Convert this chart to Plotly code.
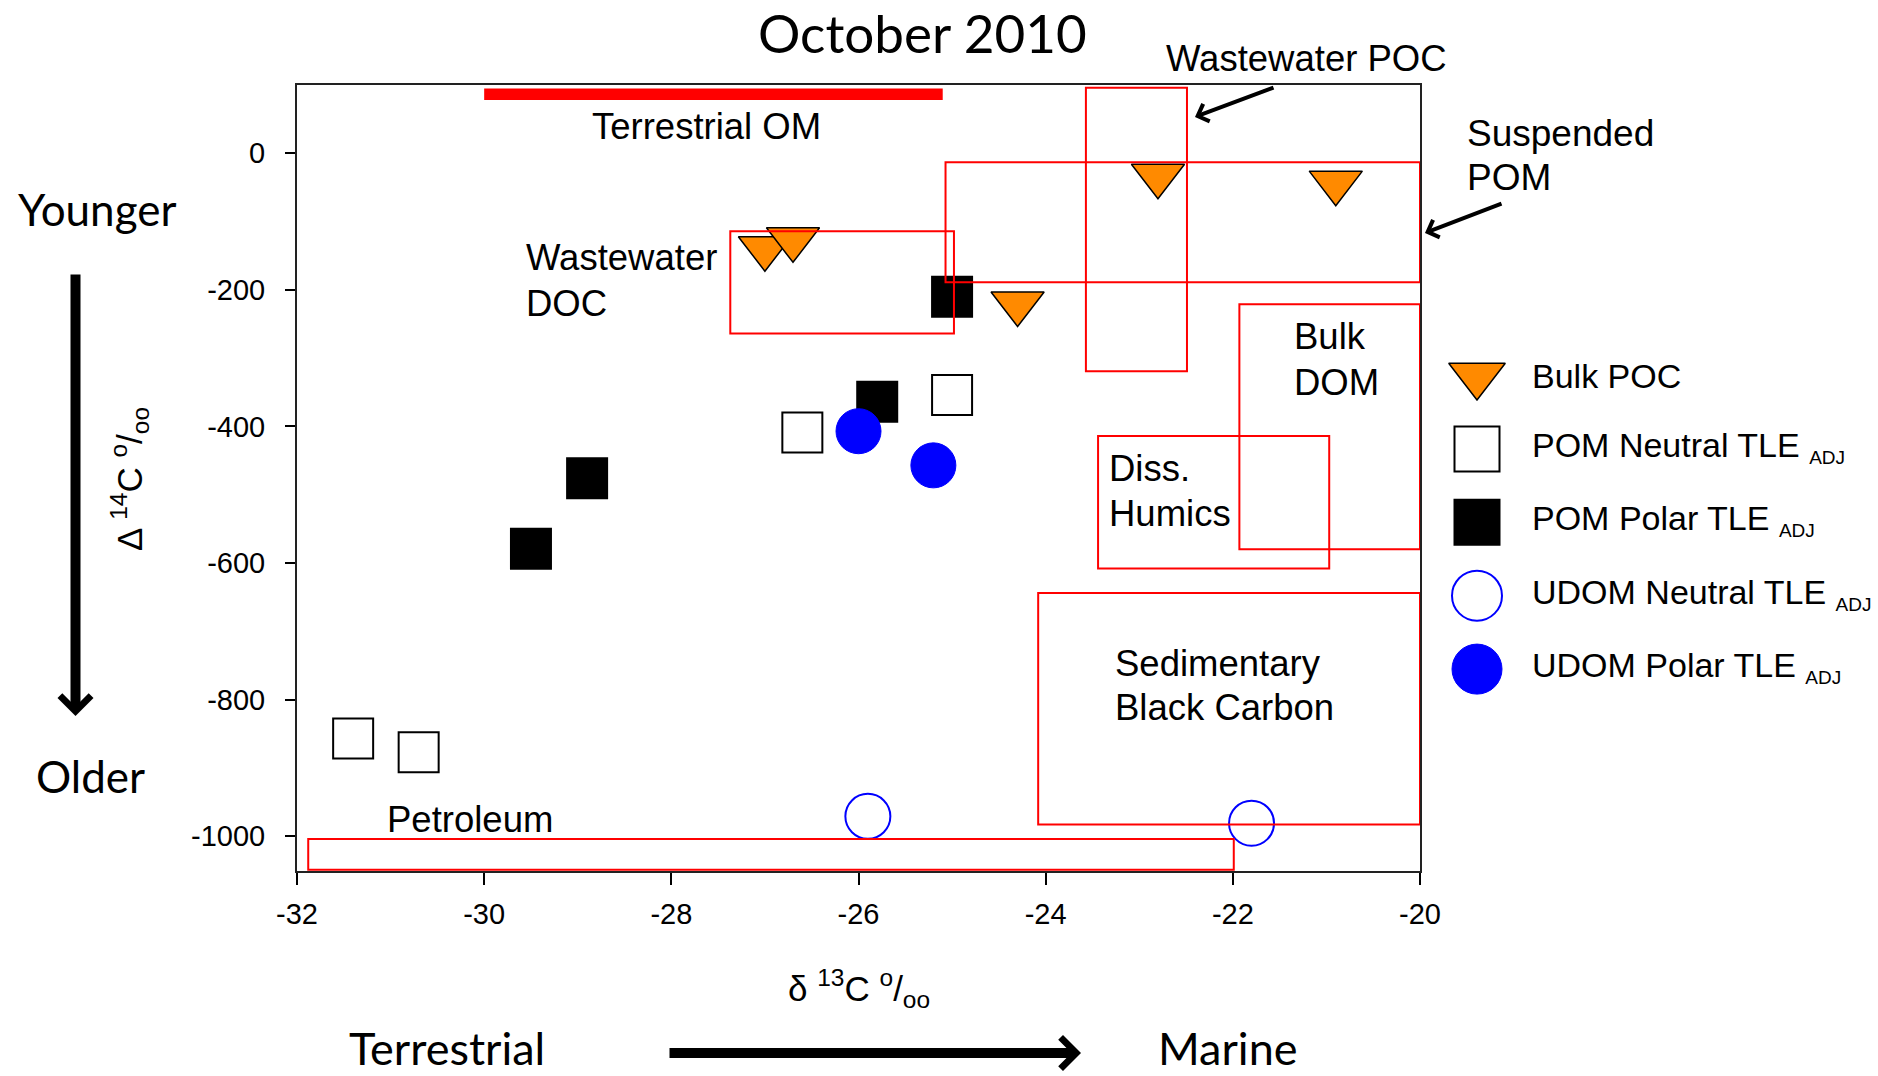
import plotly.graph_objects as go

# ---------------- data ----------------
bulk_poc_x = [-27.0, -26.7, -22.8, -20.9, -24.3]
bulk_poc_y = [-139, -126, -33, -43, -220]

pom_neutral_x = [-31.4, -30.7, -26.6, -25.0]
pom_neutral_y = [-857, -877, -409, -354]

pom_polar_x = [-25.0, -25.8, -28.9, -29.5]
pom_polar_y = [-210, -364, -476, -579]

udom_neutral_x = [-25.9, -21.8]
udom_neutral_y = [-971, -981]

udom_polar_x = [-26.0, -25.2]
udom_polar_y = [-407, -457]

# source regions (d13C range, D14C range)
region_names = ["Wastewater DOC", "Suspended POM", "Wastewater POC", "Bulk DOM",
                "Diss. Humics", "Sedimentary Black Carbon", "Petroleum"]
region_x0 = [-27.37, -25.07, -23.57, -21.93, -23.44, -24.08, -31.88]
region_x1 = [-24.98, -20.0, -22.49, -20.0, -20.97, -20.0, -21.99]
region_y0 = [-264, -189, -319, -580, -608, -983, -1049]
region_y1 = [-114, -13, 96, -221, -414, -644, -1004]

terrestrial_x = [-30.0, -25.1]
terrestrial_y = [78, 95]

x_ticks = [-32, -30, -28, -26, -24, -22, -20]
x_tick_labels = ["-32", "-30", "-28", "-26", "-24", "-22", "-20"]
y_ticks = [0, -200, -400, -600, -800, -1000]
y_tick_labels = ["0", "-200", "-400", "-600", "-800", "-1000"]

legend_labels = ["Bulk POC",
                 "POM Neutral TLE <sub><span style='font-size:19px'>ADJ</span></sub>",
                 "POM Polar TLE <sub><span style='font-size:19px'>ADJ</span></sub>",
                 "UDOM Neutral TLE <sub><span style='font-size:19px'>ADJ</span></sub>",
                 "UDOM Polar TLE <sub><span style='font-size:19px'>ADJ</span></sub>"]

# ---------------- geometry helpers ----------------
W, H = 1878, 1076
ML, MT, MB, MR = 297, 85, 205, 0
PW = W - ML - MR
PH = H - MT - MB
PLOT_W = 1123

# legend key rows (pixel centres from the top of the canvas)
LEG_TOP, LEG_STEP = 375.5, 73.4


def pxx(x):
    return (x - ML) / PW


def pyy(y):
    return 1 - (y - MT) / PH


ARIAL = "Liberation Sans, Arial, sans-serif"
CALIBRI = "Lato, Open Sans, sans-serif"
ORANGE = "#FF8A00"
BLUE = "#0000FF"

fig = go.Figure()

styles = [
    dict(symbol="triangle-down", color=ORANGE, line=dict(color="black", width=1.5)),
    dict(symbol="square", color="white", line=dict(color="black", width=2)),
    dict(symbol="square", color="black", line=dict(color="black", width=2)),
    dict(symbol="circle", color="rgba(0,0,0,0)", line=dict(color=BLUE, width=2)),
    dict(symbol="circle", color=BLUE, line=dict(color=BLUE, width=1)),
]
plot_sizes = [46, 40, 40, 45, 45]
legend_sizes = [49, 45, 45, 50, 50]
series = [(bulk_poc_x, bulk_poc_y), (pom_neutral_x, pom_neutral_y),
          (pom_polar_x, pom_polar_y), (udom_neutral_x, udom_neutral_y),
          (udom_polar_x, udom_polar_y)]
names = ["Bulk POC", "POM Neutral TLE ADJ", "POM Polar TLE ADJ",
         "UDOM Neutral TLE ADJ", "UDOM Polar TLE ADJ"]

for (sx, sy), st, sz, nm in zip(series, styles, plot_sizes, names):
    fig.add_trace(go.Scatter(x=sx, y=sy, mode="markers", name=nm,
                             marker=dict(size=sz, **st), showlegend=False,
                             cliponaxis=False))

# manual legend keys on a hidden axis pair
for i, (st, sz, nm) in enumerate(zip(styles, legend_sizes, names)):
    fig.add_trace(go.Scatter(x=[0.5], y=[i], mode="markers", name=nm,
                             marker=dict(size=sz, **st), showlegend=False,
                             xaxis="x2", yaxis="y2", cliponaxis=False))

shapes = []
# terrestrial OM bar
shapes.append(dict(type="rect", xref="x", yref="y", x0=terrestrial_x[0], x1=terrestrial_x[1],
                   y0=terrestrial_y[0], y1=terrestrial_y[1], fillcolor="#FF0000",
                   line=dict(width=0), layer="above"))
for x0, x1, y0, y1 in zip(region_x0, region_x1, region_y0, region_y1):
    shapes.append(dict(type="rect", xref="x", yref="y", x0=x0, x1=x1, y0=y0, y1=y1,
                       line=dict(color="#FF0000", width=2), fillcolor="rgba(0,0,0,0)",
                       layer="above"))

annotations = []


def txt(text, x, y, size, family, xanchor="center", yanchor="middle", xref="paper",
        yref="paper", textangle=0):
    annotations.append(dict(text=text, x=x, y=y, xref=xref, yref=yref, showarrow=False,
                            xanchor=xanchor, yanchor=yanchor, textangle=textangle,
                            font=dict(size=size, family=family, color="black")))


def arrow(tipx, tipy, tailx, taily, width, size):
    annotations.append(dict(text="", x=pxx(tipx), y=pyy(tipy), xref="paper", yref="paper",
                            ax=tailx - tipx, ay=taily - tipy, showarrow=True,
                            arrowhead=4, arrowsize=size, arrowwidth=width,
                            arrowcolor="black", standoff=0))


# title and outside labels (Calibri-like)
txt("October 2010", pxx(922), pyy(33), 53, CALIBRI)
txt("Younger", pxx(97), pyy(209), 44, CALIBRI)
txt("Older", pxx(91), pyy(776), 44, CALIBRI)
txt("Terrestrial", pxx(447), pyy(1048), 45, CALIBRI)
txt("Marine", pxx(1228), pyy(1048), 45, CALIBRI)

# outside Arial labels
txt("Wastewater POC", pxx(1164), pyy(58), 36.5, ARIAL, xanchor="left")
txt("Suspended", pxx(1465), pyy(133), 37, ARIAL, xanchor="left")
txt("POM", pxx(1465), pyy(177), 37, ARIAL, xanchor="left")

# axis titles
txt("δ <sup>13</sup>C <sup>o</sup>/<sub>oo</sub>", pxx(859), pyy(988), 35, ARIAL)
txt("Δ <sup>14</sup>C <sup>o</sup>/<sub>oo</sub>", pxx(129), pyy(479), 35, ARIAL, textangle=-90)

# in-plot region labels (data coordinates)
txt("Terrestrial OM", -27.62, 39.6, 36.5, ARIAL, xref="x", yref="y")
txt("Wastewater", -29.57, -153, 36.5, ARIAL, xanchor="left", xref="x", yref="y")
txt("DOC", -29.57, -220, 36.5, ARIAL, xanchor="left", xref="x", yref="y")
txt("Bulk", -21.37, -269, 36.5, ARIAL, xanchor="left", xref="x", yref="y")
txt("DOM", -21.37, -335, 36.5, ARIAL, xanchor="left", xref="x", yref="y")
txt("Diss.", -23.34, -462, 36.5, ARIAL, xanchor="left", xref="x", yref="y")
txt("Humics", -23.34, -528, 36.5, ARIAL, xanchor="left", xref="x", yref="y")
txt("Sedimentary", -23.28, -747, 36.5, ARIAL, xanchor="left", xref="x", yref="y")
txt("Black Carbon", -23.28, -811, 36.5, ARIAL, xanchor="left", xref="x", yref="y")
txt("Petroleum", -31.06, -975, 36.5, ARIAL, xanchor="left", xref="x", yref="y")

# legend labels
for i, lab in enumerate(legend_labels):
    txt(lab, pxx(1530), pyy(LEG_TOP + i * LEG_STEP + (0 if i == 0 else -2)), 34, ARIAL,
        xanchor="left")

# arrows
arrow(75.5, 716, 75.5, 273, 10, 0.6)
arrow(1081, 1053, 668, 1053, 10, 0.6)
arrow(1195, 117, 1275, 87, 4, 0.9)
arrow(1425, 233, 1503, 203, 4, 0.9)

fig.update_layout(
    width=W, height=H, autosize=False,
    margin=dict(l=ML, r=MR, t=MT, b=MB, pad=0, autoexpand=False),
    paper_bgcolor="white", plot_bgcolor="white",
    showlegend=False,
    shapes=shapes, annotations=annotations,
    xaxis=dict(range=[-32, -20], domain=[0, PLOT_W / PW], tickvals=x_ticks,
               ticktext=x_tick_labels, ticks="outside", ticklen=12, tickwidth=2,
               tickcolor="black", showline=True, linewidth=2, linecolor="#222",
               mirror=True, showgrid=False, zeroline=False, ticklabelstandoff=4,
               automargin=False,
               tickfont=dict(size=29, family=ARIAL, color="black")),
    yaxis=dict(range=[-1051, 100], domain=[0, 1], tickvals=y_ticks,
               ticktext=y_tick_labels, ticks="outside", ticklen=10, tickwidth=2,
               tickcolor="black", showline=True, linewidth=2, linecolor="#222",
               mirror=True, showgrid=False, zeroline=False, ticklabelstandoff=14,
               automargin=False,
               tickfont=dict(size=29, family=ARIAL, color="black")),
    xaxis2=dict(domain=[pxx(1453), pxx(1501)], range=[0, 1], visible=False,
                anchor="y2", fixedrange=True),
    yaxis2=dict(domain=[pyy(LEG_TOP + 4.5 * LEG_STEP), pyy(LEG_TOP - 0.5 * LEG_STEP)],
                range=[4.5, -0.5], visible=False, anchor="x2", fixedrange=True),
)

fig.write_html("out.html", config={"responsive": False})
